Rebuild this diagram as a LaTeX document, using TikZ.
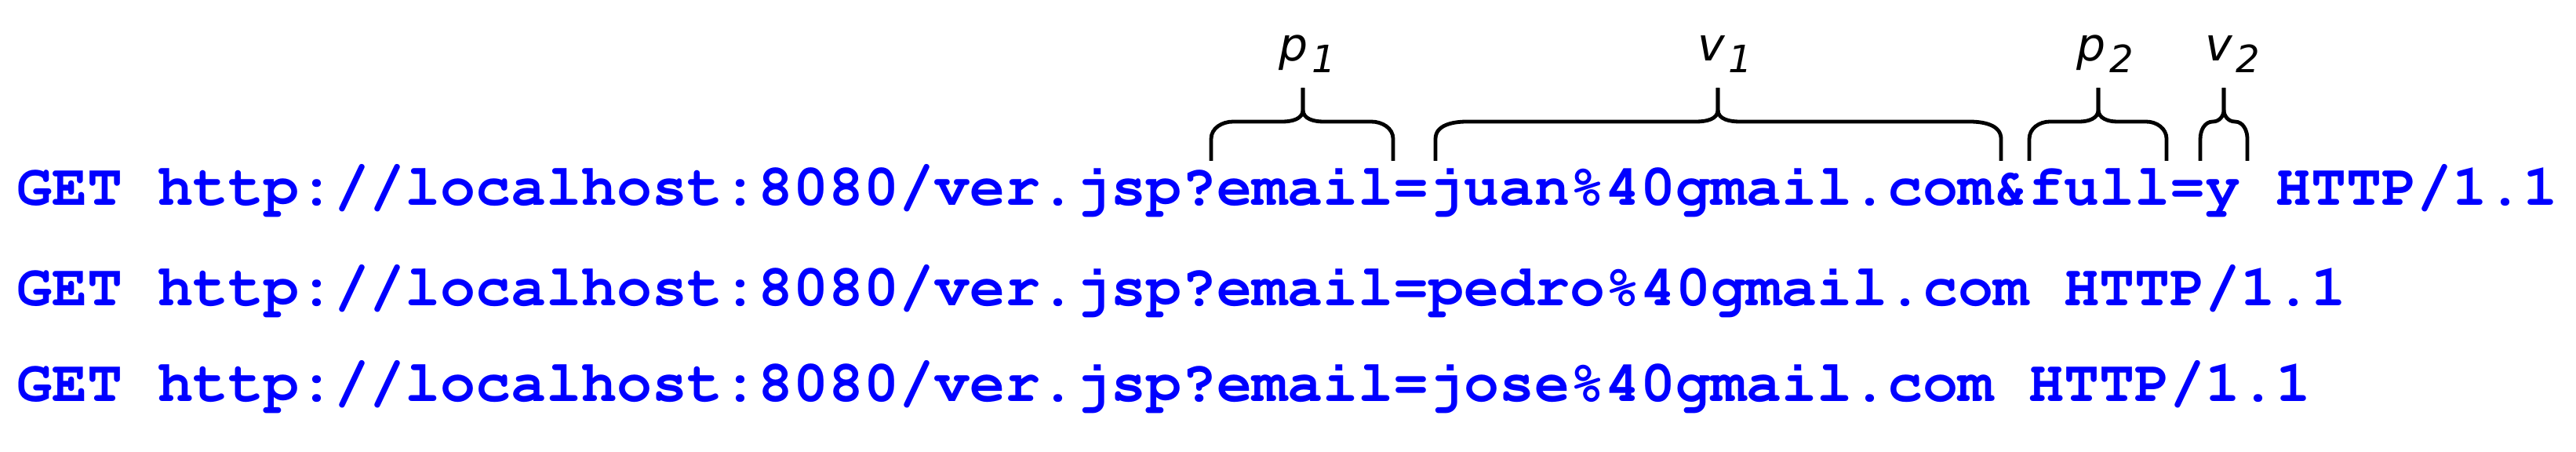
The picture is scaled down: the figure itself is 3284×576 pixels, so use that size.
\documentclass[tikz,border=0pt]{standalone}
\usepackage[T1]{fontenc}
\usepackage{fontspec}
\newfontfamily\tagfont{DejaVu Sans}
\newcommand{\reqfont}{\fontencoding{T1}\fontfamily{pcr}\fontseries{b}\selectfont}
\newcommand{\sublbl}[2]{#1\kern1.2pt\raisebox{-3.75pt}{\fontsize{12pt}{13pt}\selectfont #2}}
\definecolor{reqblue}{RGB}{0,0,255}

\begin{document}
\begin{tikzpicture}[x=0.25pt, y=-0.25pt,
    req/.style={anchor=base west, inner sep=0pt, text=reqblue,
      font=\reqfont\fontsize{18.75pt}{20pt}\selectfont},
    tag/.style={anchor=base, inner sep=0pt,
      font=\tagfont\itshape\fontsize{14.6pt}{16pt}\selectfont},
    curly/.style={line width=1.2pt}]
    \useasboundingbox (0,0) rectangle (3284,576);

    % リクエスト
    \node[req] (req1) at (20.5,262) {GET http://localhost:8080/ver.jsp?email=juan\%40gmail.com\&full=y HTTP/1.1};
    \node[req] (req2) at (20.5,390) {GET http://localhost:8080/ver.jsp?email=pedro\%40gmail.com HTTP/1.1};
    \node[req] (req3) at (20.5,512) {GET http://localhost:8080/ver.jsp?email=jose\%40gmail.com HTTP/1.1};

    % 括弧を描く
    \draw[curly] (1544,205) -- (1544,177) to[out=90,in=180] (1572,155) -- (1635,155) to[out=0,in=270] (1661,140) -- (1661,112);
    \draw[curly] (1776,205) -- (1776,177) to[out=90,in=0] (1748,155) -- (1687,155) to[out=180,in=270] (1661,140) -- (1661,112);
    \draw[curly] (1830,205) -- (1830,177) to[out=90,in=180] (1870,155) -- (2162,155) to[out=0,in=270] (2190,140) -- (2190,112);
    \draw[curly] (2551,205) -- (2551,177) to[out=90,in=0] (2511,155) -- (2218,155) to[out=180,in=270] (2190,140) -- (2190,112);
    \draw[curly] (2587,205) -- (2587,177) to[out=90,in=180] (2613,155) -- (2651,155) to[out=0,in=270] (2675,140) -- (2675,112);
    \draw[curly] (2762,205) -- (2762,177) to[out=90,in=0] (2736,155) -- (2699,155) to[out=180,in=270] (2675,140) -- (2675,112);
    \draw[curly] (2805,205) -- (2805,177) to[out=90,in=180] (2821,155) to[out=0,in=270] (2835,140) -- (2835,112);
    \draw[curly] (2865,205) -- (2865,177) to[out=90,in=0] (2849,155) to[out=180,in=270] (2835,140) -- (2835,112);

    % ラベルを入れる
    \node[tag] (p1) at (1667,78) {\sublbl{p}{1}};
    \node[tag] (v1) at (2199,78) {\sublbl{v}{1}};
    \node[tag] (p2) at (2684,78) {\sublbl{p}{2}};
    \node[tag] (v2) at (2846,78) {\sublbl{v}{2}};

  \end{tikzpicture}
\end{document}
